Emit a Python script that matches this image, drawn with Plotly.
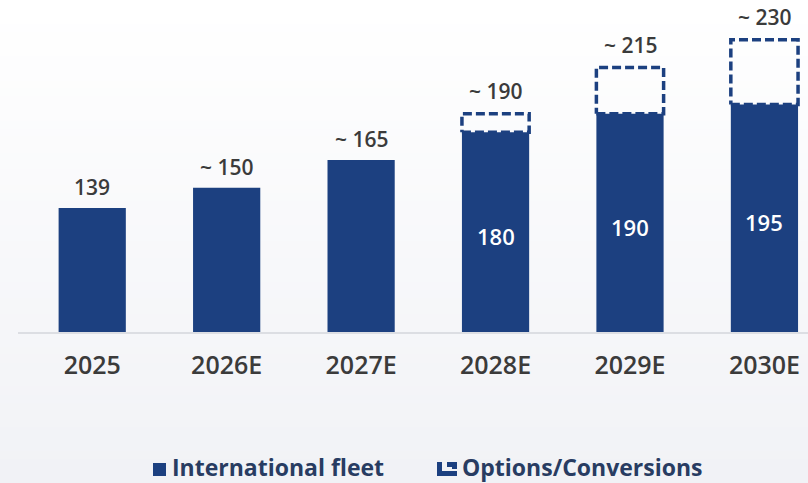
import plotly.graph_objects as go

# ---- data ----
categories = ["2025", "2026E", "2027E", "2028E", "2029E", "2030E"]
fleet = [139, 150, 165, 180, 190, 195]
total = [139, 150, 165, 190, 215, 230]
top_labels = ["139", "~ 150", "~ 165", "~ 190", "~ 215", "~ 230"]
inner_labels = ["", "", "", "180", "190", "195"]
has_options = [False, False, False, True, True, True]

# ---- style ----
NAVY = "#1c4080"
TEXT = "#3b3b3b"
LEG_TEXT = "#283c62"
FONT = "Open Sans"
W, H = 808, 483
ML, MT, MB = 25, 0, 151
PH = H - MT - MB
PW = W - ML
Y_MIN, Y_MAX = 72, 251.5
BAR_W = 0.5

x_idx = list(range(len(categories)))

fig = go.Figure()

fig.add_trace(go.Bar(
    x=x_idx, y=[v - Y_MIN for v in fleet], base=Y_MIN, width=BAR_W,
    marker=dict(color=NAVY, line=dict(width=0)),
    hoverinfo="skip", showlegend=False, name="International fleet",
))

# dashed option boxes
for i, (f, t, o) in enumerate(zip(fleet, total, has_options)):
    if not o:
        continue
    x0, x1 = i - BAR_W / 2, i + BAR_W / 2
    fig.add_trace(go.Scatter(
        x=[x0, x1, x1, x0, x0], y=[f, f, t, t, f], mode="lines",
        line=dict(color=NAVY, width=3.5, dash="9px,4px"),
        showlegend=False, hoverinfo="skip",
    ))

annotations = []
for i, (t, lab, o) in enumerate(zip(total, top_labels, has_options)):
    annotations.append(dict(
        x=i, y=t, xref="x", yref="y", text=lab, showarrow=False,
        yanchor="middle", yshift=23 if o else 21,
        font=dict(family=FONT, size=21, color=TEXT, weight=600),
    ))
# inner value labels
for i, (f, lab) in enumerate(zip(fleet, inner_labels)):
    if not lab:
        continue
    annotations.append(dict(
        x=i, y=(Y_MIN + f) / 2, xref="x", yref="y", text=lab, showarrow=False,
        yanchor="middle", yshift=-4,
        font=dict(family=FONT, size=22, color="white", weight=600),
    ))


def pxx(px):
    return (px - ML) / PW


def pxy(py):
    return (MT + PH - py) / PH


# legend texts
annotations.append(dict(
    x=pxx(170), y=pxy(467), xref="paper", yref="paper", xanchor="left", yanchor="middle",
    text="International fleet", showarrow=False,
    font=dict(family=FONT, size=23, color=LEG_TEXT, weight=700),
))
annotations.append(dict(
    x=pxx(460), y=pxy(467), xref="paper", yref="paper", xanchor="left", yanchor="middle",
    text="Options/Conversions", showarrow=False,
    font=dict(family=FONT, size=23, color=LEG_TEXT, weight=700),
))

shapes = []
# background gradient (white top -> light grey bottom)
N = 60
c0 = (255, 255, 255)
c1 = (241, 242, 246)
for k in range(N):
    a = k / (N - 1)
    col = "rgb(%d,%d,%d)" % tuple(round(c0[j] + (c1[j] - c0[j]) * a) for j in range(3))
    y_top = H * k / N
    y_bot = H * (k + 1) / N + 1
    shapes.append(dict(type="rect", xref="paper", yref="paper", layer="below",
                       x0=pxx(0), x1=pxx(W), y0=pxy(y_bot), y1=pxy(y_top),
                       fillcolor=col, line=dict(width=0)))
# baseline
shapes.append(dict(type="line", xref="paper", yref="paper", layer="below",
                   x0=pxx(18), x1=pxx(W), y0=pxy(333), y1=pxy(333),
                   line=dict(color="#dcdee3", width=2)))
# legend icons
shapes.append(dict(type="rect", xref="paper", yref="paper",
                   x0=pxx(153), x1=pxx(166), y0=pxy(476), y1=pxy(463),
                   fillcolor=NAVY, line=dict(width=0)))
for (a, b, c, d) in [(437, 442, 462, 476), (437, 457, 471, 476), (447, 457, 462, 467), (452, 457, 462, 469)]:
    shapes.append(dict(type="rect", xref="paper", yref="paper",
                       x0=pxx(a), x1=pxx(b), y0=pxy(d), y1=pxy(c),
                       fillcolor=NAVY, line=dict(width=0)))

fig.update_layout(
    width=W, height=H,
    margin=dict(l=ML, r=0, t=MT, b=MB, pad=0),
    paper_bgcolor="#ffffff", plot_bgcolor="rgba(0,0,0,0)",
    showlegend=False,
    xaxis=dict(range=[-0.5, 5.324], tickmode="array", tickvals=x_idx, ticktext=categories,
               showgrid=False, zeroline=False, showline=False, ticks="",
               tickfont=dict(family=FONT, size=25, color=TEXT, weight=600),
               ticklabelstandoff=16, fixedrange=True),
    yaxis=dict(range=[Y_MIN, Y_MAX], visible=False, showgrid=False, zeroline=False, fixedrange=True),
    annotations=annotations,
    shapes=shapes,
)

fig.write_html("out.html")
